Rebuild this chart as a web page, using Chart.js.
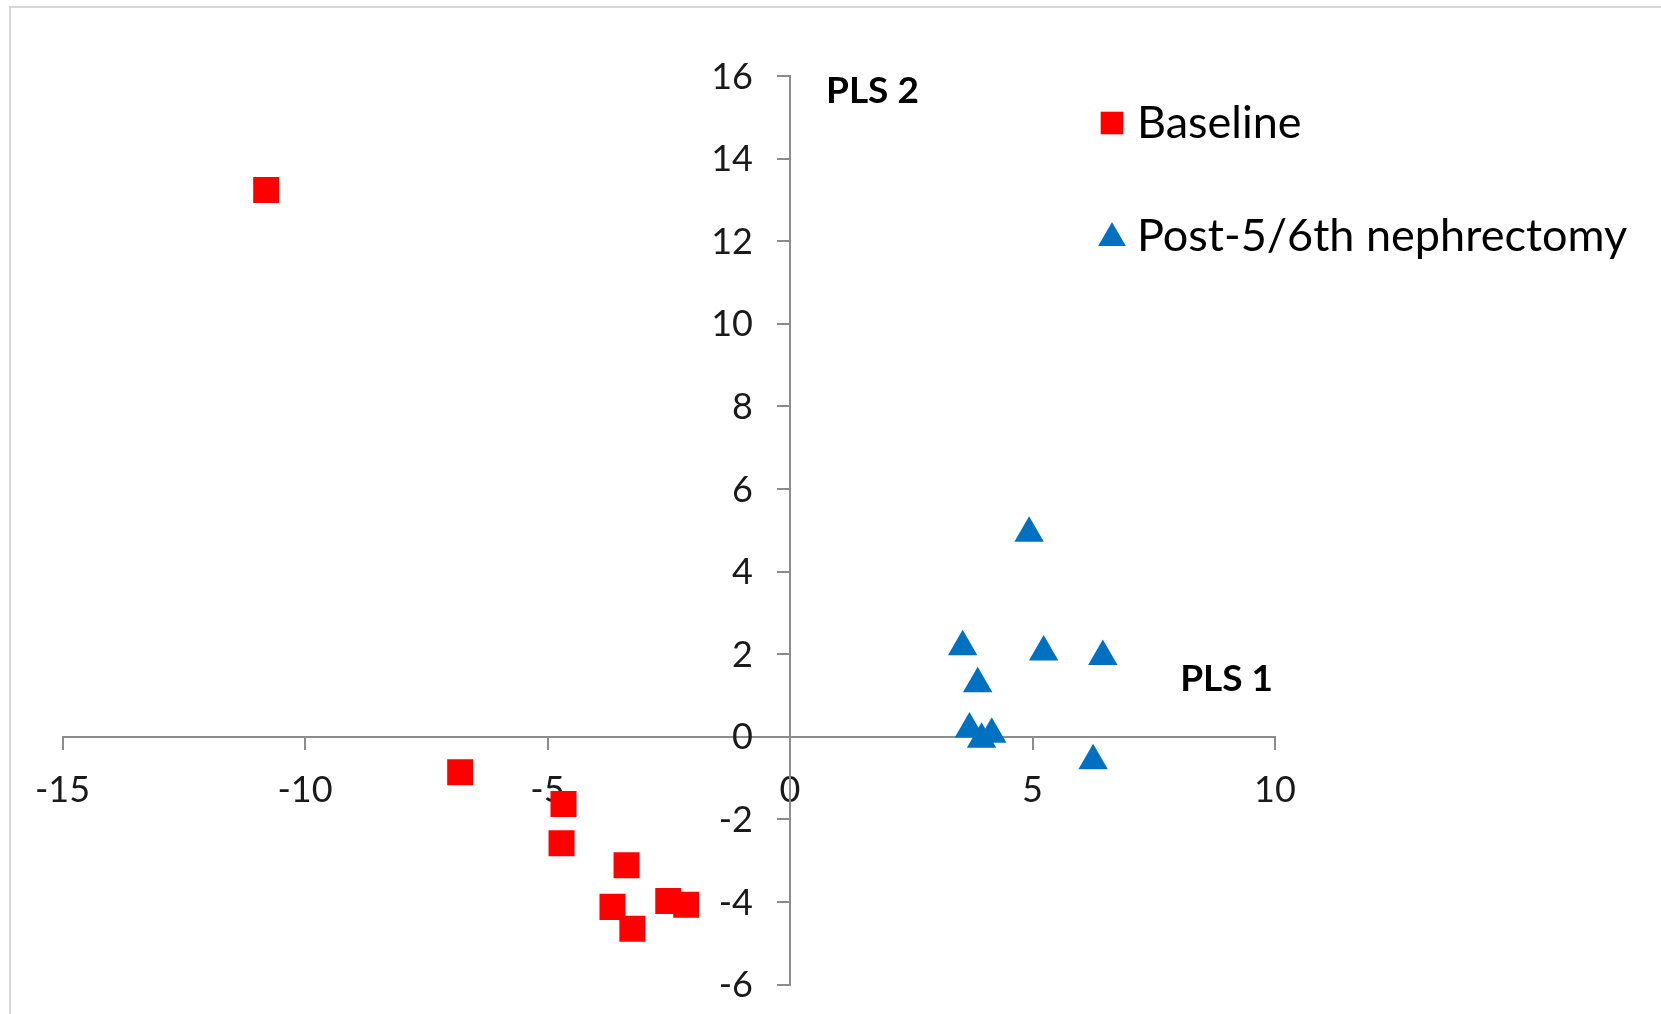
<!DOCTYPE html>
<html>
<head>
<meta charset="utf-8">
<script src="https://cdn.jsdelivr.net/npm/chart.js@4.4.1/dist/chart.umd.min.js"></script>
<style>
  html, body { margin: 0; padding: 0; background: #fff; }
  #wrap { position: relative; width: 1661px; height: 1014px; }
  #frame { position: absolute; left: 9px; top: 6px; right: -4px; bottom: -4px;
           border-top: 2px solid #d6d6d6; border-left: 2px solid #d6d6d6; }
</style>
</head>
<body>
<div id="wrap">
  <div id="frame"></div>
  <canvas id="plsChart"></canvas>
</div>
<script>
// PLS scores
const baselineX = [-10.8, -6.8, -4.67, -4.71, -3.37, -3.66, -3.25, -2.51, -2.14];
const baselineY = [13.24, -0.86, -1.63, -2.58, -3.11, -4.12, -4.65, -3.98, -4.07];
const postX = [4.93, 3.56, 5.23, 6.45, 3.87, 3.70, 3.95, 4.16, 6.25];
const postY = [4.93, 2.18, 2.05, 1.94, 1.28, 0.19, -0.06, 0.06, -0.58];

const seriesNames = ["Baseline", "Post-5/6th nephrectomy"];
const axisNames = ["PLS 1", "PLS 2"];
const xRange = [-15, 10];
const yRange = [-6, 16];

const toPoints = (xs, ys) => xs.map((x, i) => ({ x: x, y: ys[i] }));

const axisColor = "#8c8c8c";
const textFont = "Lato, 'Open Sans', sans-serif";

// y tick labels (a centred y axis puts them on the line), legend and captions
const captions = {
  id: "captions",
  afterDraw(chart) {
    const ctx = chart.ctx;
    const xs = chart.scales.x;
    const ys = chart.scales.y;
    const x0 = xs.getPixelForValue(0);
    ctx.save();
    ctx.textBaseline = "middle";

    ctx.fillStyle = "#1a1a1a";
    ctx.font = "36px " + textFont;
    ctx.textAlign = "right";
    ys.ticks.forEach(t => {
      ctx.fillText(String(t.value), x0 - 37, ys.getPixelForValue(t.value) + 1);
    });

    ctx.fillStyle = "#000";
    ctx.font = "bold 37px " + textFont;
    ctx.textAlign = "left";
    ctx.fillText(axisNames[1], x0 + 36, ys.top + 15);
    ctx.textAlign = "right";
    ctx.fillText(axisNames[0], xs.right - 2, ys.getPixelForValue(0) - 58);

    ctx.font = "45px " + textFont;
    ctx.textAlign = "left";
    const rows = [123, 236];
    chart.data.datasets.forEach((ds, i) => {
      ctx.fillStyle = ds.backgroundColor;
      Chart.helpers.drawPoint(ctx, {
        pointStyle: ds.pointStyle,
        radius: 16,
        rotation: 0,
        borderWidth: 0
      }, 1112, rows[i] + (i === 1 ? 2 : 0));
      ctx.fillStyle = "#000";
      ctx.fillText(ds.label, 1137, rows[i]);
    });
    ctx.restore();
  }
};

const ctx = document.getElementById("plsChart").getContext("2d");
const plsChart = new Chart(ctx, {
  type: "scatter",
  data: {
    datasets: [
      {
        label: seriesNames[0],
        data: toPoints(baselineX, baselineY),
        pointStyle: "rect",
        backgroundColor: "#ff0000",
        borderColor: "#ff0000",
        borderWidth: 0,
        pointRadius: 18.4,
        pointHoverRadius: 18.4
      },
      {
        label: seriesNames[1],
        data: toPoints(postX, postY),
        pointStyle: "triangle",
        backgroundColor: "#0070c0",
        borderColor: "#0070c0",
        borderWidth: 0,
        pointRadius: 17,
        pointHoverRadius: 17
      }
    ]
  },
  options: {
    responsive: true,
    maintainAspectRatio: false,
    animation: false,
    layout: { padding: { left: 62.5, right: 386, top: 76, bottom: 29.5 } },
    plugins: { legend: { display: false }, tooltip: { enabled: false } },
    scales: {
      x: {
        type: "linear",
        min: xRange[0],
        max: xRange[1],
        position: { y: 0 },
        border: { display: true, color: axisColor, width: 2 },
        grid: { drawOnChartArea: false, drawTicks: true, tickLength: 12, color: axisColor, lineWidth: 2 },
        ticks: { stepSize: 5, padding: 20, color: "#1a1a1a", font: { family: textFont, size: 36 }, maxRotation: 0 }
      },
      y: {
        type: "linear",
        min: yRange[0],
        max: yRange[1],
        position: { x: 0 },
        border: { display: true, color: axisColor, width: 2 },
        grid: { drawOnChartArea: false, drawTicks: true, tickLength: 12, color: axisColor, lineWidth: 2 },
        ticks: { stepSize: 2, display: false }
      }
    }
  },
  plugins: [captions]
});
</script>
</body>
</html>
